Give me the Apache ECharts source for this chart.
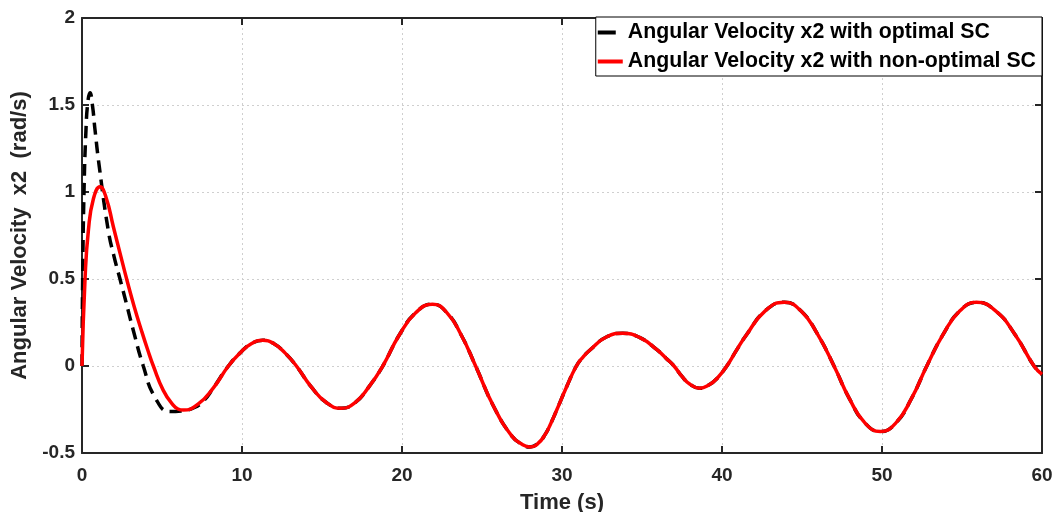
<!DOCTYPE html>
<html>
<head>
<meta charset="utf-8">
<script src="https://cdn.jsdelivr.net/npm/echarts@6/dist/echarts.min.js"></script>
<style>
  html, body { margin: 0; padding: 0; background: #fff; }
  #chart { width: 1053px; height: 512px; }
</style>
</head>
<body>
<div id="chart"></div>
<script>
// non-optimal SC (red)
const redTime = [0, 0.19, 0.4, 0.71, 1.125, 1.5, 1.96, 2.4, 2.79, 3.25, 3.73, 4.1, 4.46, 5.08, 5.7, 6.0, 6.33,
  7.25, 8.2, 9.15, 9.87, 10.58, 11.3, 12.0, 12.7, 13.4, 14.33, 15.27, 16.2, 17.07, 17.93, 18.8,
  19.83, 20.87, 21.9, 22.8, 23.7, 24.6, 25.73, 26.87, 27.5, 28.0, 28.5, 28.97, 29.3, 29.67, 30.29, 30.9, 31.3, 31.75, 32.8, 33.8,
  34.87, 35.93, 36.5, 37.0, 37.5, 38.0, 38.6, 39.2, 39.7, 40.3, 40.9, 41.5, 42.7, 43.9, 44.93, 45.97, 47.0,
  47.97, 48.93, 49.9, 50.87, 51.83, 52.8, 53.83, 54.87, 55.9, 57.1, 58.3, 59.5, 60];
const redVel = [0, 0.5, 0.78, 0.96, 1.03, 0.97, 0.8, 0.64, 0.5, 0.345, 0.2, 0.095, 0, -0.14, -0.225, -0.247, -0.253,
  -0.219, -0.127, 0, 0.074, 0.128, 0.148, 0.128, 0.074, 0, -0.12, -0.21, -0.243, -0.21, -0.12, 0,
  0.178, 0.307, 0.355, 0.307, 0.178, 0, -0.233, -0.403, -0.45, -0.465, -0.445, -0.39, -0.33, -0.253, -0.119, 0, 0.05, 0.092, 0.168, 0.188,
  0.163, 0.094, 0.045, 0, -0.06, -0.105, -0.128, -0.108, -0.07, 0, 0.09, 0.175, 0.317, 0.366, 0.317, 0.183, 0,
  -0.189, -0.327, -0.377, -0.327, -0.189, 0, 0.183, 0.317, 0.366, 0.317, 0.183, 0, -0.048];

// optimal SC (black dashed), early transient; after ~8 s it follows the red curve
const blackTime = [0, 0.04, 0.125, 0.25, 0.37, 0.5, 0.65, 0.81, 1.08, 1.64, 2.0, 2.375, 2.8, 3.2, 3.83,
  4.56, 5.5, 6.2, 7.0, 7.6];
const blackVel = [0, 0.5, 1.0, 1.36, 1.52, 1.57, 1.5, 1.36, 1.146, 0.78, 0.63, 0.5, 0.35, 0.207, 0,
  -0.18, -0.262, -0.258, -0.24, -0.2];

const xTicks = [0, 10, 20, 30, 40, 50, 60];
const yTicks = [-0.5, 0, 0.5, 1, 1.5, 2];

const seriesNames = ['Angular Velocity x2 with optimal SC', 'Angular Velocity x2 with non-optimal SC'];

const redData = redTime.map((t, i) => [t, redVel[i]]);
const tailStart = redTime.indexOf(8.2);
const blackData = blackTime.map((t, i) => [t, blackVel[i]])
  .concat(redData.slice(tailStart));

const font = '"Liberation Sans", Arial, sans-serif';
const frameColor = '#262626';

const chart = echarts.init(document.getElementById('chart'));
const xBase = {
  type: 'value',
  min: xTicks[0],
  max: xTicks[xTicks.length - 1],
  interval: 10,
  axisLine: { onZero: false, lineStyle: { color: frameColor, width: 2 } },
  axisTick: { inside: true, length: 7, lineStyle: { color: frameColor, width: 2 } }
};
const yBase = {
  type: 'value',
  min: yTicks[0],
  max: yTicks[yTicks.length - 1],
  interval: 0.5,
  axisLine: { onZero: false, lineStyle: { color: frameColor, width: 2 } },
  axisTick: { inside: true, length: 7, lineStyle: { color: frameColor, width: 2 } }
};
const gridLine = { show: true, lineStyle: { type: [2, 3], color: '#cfcfcf', width: 1 } };

const option = {
  animation: false,
  backgroundColor: '#fff',
  grid: { left: 82, right: 11, top: 18, bottom: 59, outerBoundsMode: 'none', containLabel: false },
  legend: {
    orient: 'vertical',
    right: 11,
    top: 17,
    symbolKeepAspect: false,
    data: [
      // short dash for the dashed series, full bar for the solid one
      { name: seriesNames[0], icon: 'path://M0,0H18V4H0Z M25,0L25,4' },
      { name: seriesNames[1], icon: 'rect' }
    ],
    itemWidth: 25,
    itemHeight: 4,
    itemGap: 8,
    padding: [5, 6, 4, 2],
    borderColor: '#000',
    borderWidth: 1,
    backgroundColor: '#fff',
    textStyle: { fontFamily: font, fontWeight: 'bold', fontSize: 21.3, color: '#000' }
  },
  xAxis: [
    Object.assign({}, xBase, {
      position: 'bottom',
      name: 'Time (s)',
      nameLocation: 'middle',
      nameGap: 39,
      nameTextStyle: { fontFamily: font, fontWeight: 'bold', fontSize: 22, color: '#262626' },
      axisLabel: { fontFamily: font, fontWeight: 'bold', fontSize: 19, color: '#262626', margin: 13 },
      splitLine: gridLine
    }),
    Object.assign({}, xBase, {
      position: 'top',
      axisLabel: { show: false },
      splitLine: { show: false }
    })
  ],
  yAxis: [
    Object.assign({}, yBase, {
      position: 'left',
      name: 'Angular Velocity  x2  (rad/s)',
      nameLocation: 'middle',
      nameGap: 40,
      nameTextStyle: { fontFamily: font, fontWeight: 'bold', fontSize: 22, color: '#262626' },
      axisLabel: { fontFamily: font, fontWeight: 'bold', fontSize: 19, color: '#262626', margin: 7 },
      splitLine: gridLine
    }),
    Object.assign({}, yBase, {
      position: 'right',
      axisLabel: { show: false },
      splitLine: { show: false }
    })
  ],
  series: [
    {
      name: seriesNames[0],
      type: 'line',
      data: blackData,
      smooth: 0.5,
      symbol: 'none',
      lineStyle: { color: '#000', width: 3.5, type: [12, 7] },
      itemStyle: { color: '#000' },
      z: 2
    },
    {
      name: seriesNames[1],
      type: 'line',
      data: redData,
      smooth: 0.5,
      symbol: 'none',
      lineStyle: { color: '#ff0000', width: 3.5 },
      itemStyle: { color: '#ff0000' },
      z: 3
    }
  ]
};
chart.setOption(option);
</script>
</body>
</html>
